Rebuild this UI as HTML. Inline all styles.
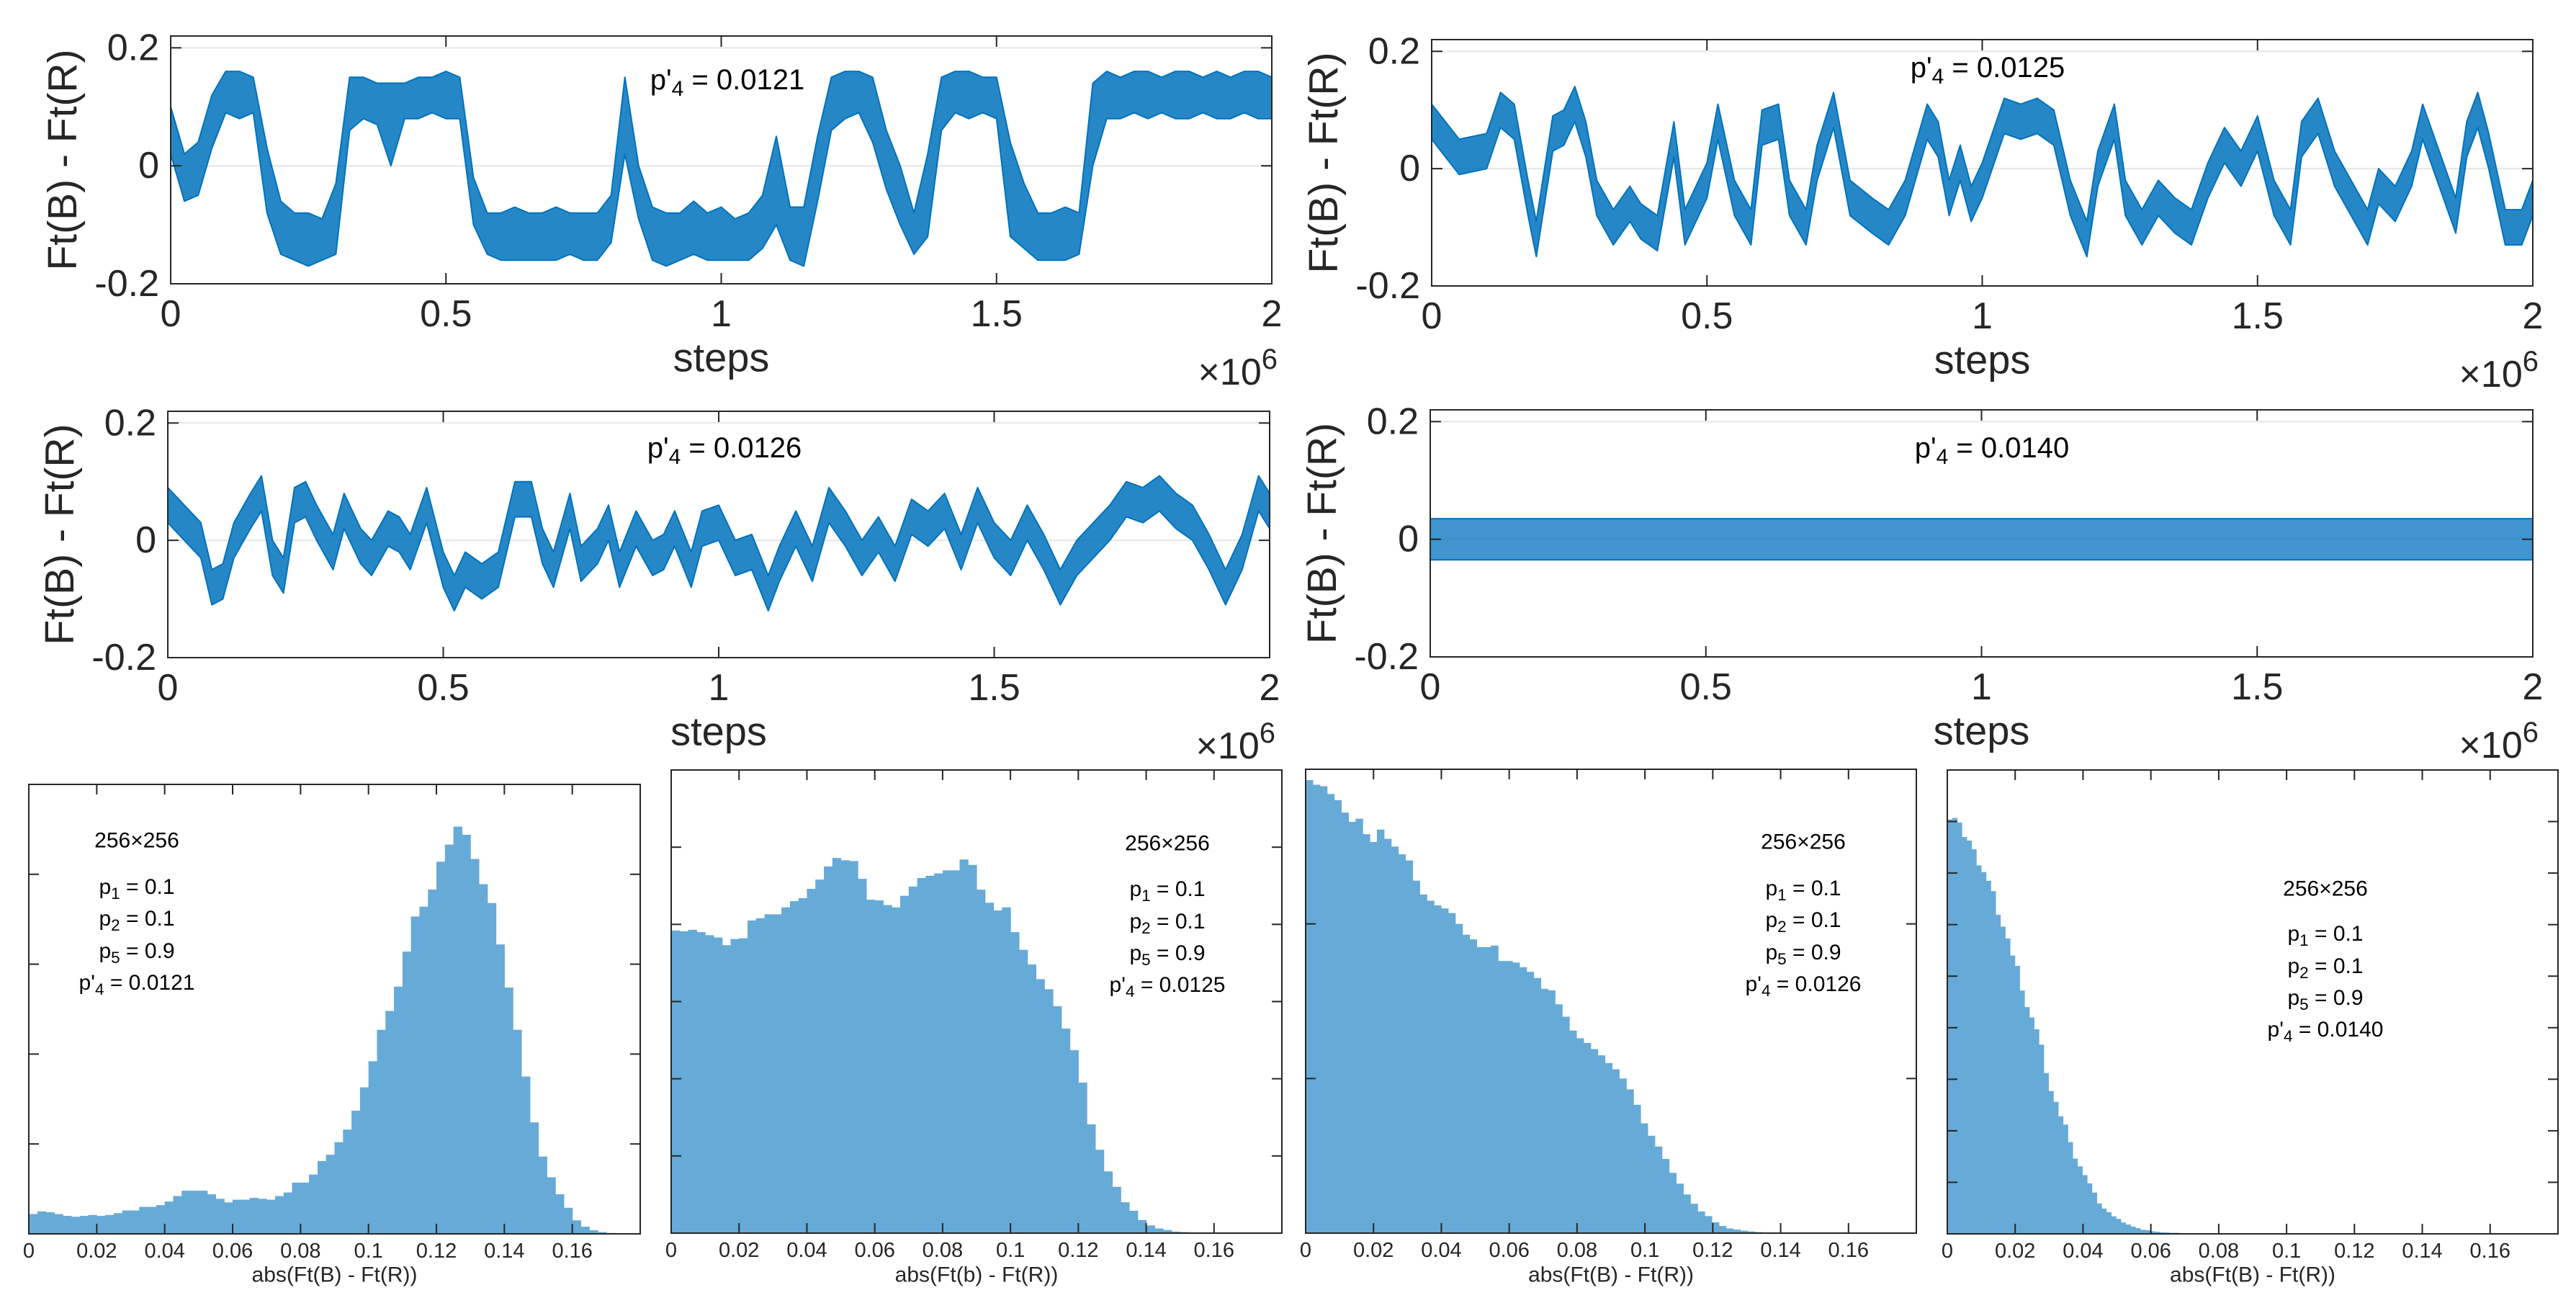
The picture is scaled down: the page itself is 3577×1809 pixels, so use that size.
<!DOCTYPE html>
<html><head><meta charset="utf-8"><style>
html,body{margin:0;padding:0;background:#fff;}
svg{display:block;font-family:"Liberation Sans",sans-serif;}
</style></head><body>
<svg id="fig" width="3577" height="1809" viewBox="0 0 3577 1809" xmlns="http://www.w3.org/2000/svg"></svg>
<script>
// ---------- data ----------
const stepTicks = [0, 0.5, 1, 1.5, 2];
const stepTickLabels = ["0", "0.5", "1", "1.5", "2"];
const valTicks = [-0.2, 0, 0.2];
const valTickLabels = ["-0.2", "0", "0.2"];
const lineYMin = -0.2, lineYMax = 0.22;

// series A (p'4 = 0.0121): envelope sampled every 0.025 (x10^6 steps)
const aStep = 0.025;
const aHi = [.1,.02,.04,.12,.16,.16,.15,.03,-.06,-.08,-.08,-.09,-.03,.15,.15,.14,.14,.14,.15,.15,.16,.15,-.02,-.08,-.08,-.07,-.08,-.08,-.07,-.08,-.08,-.08,-.05,.15,.0,-.07,-.08,-.08,-.06,-.08,-.07,-.09,-.08,-.05,.05,-.07,-.07,.05,.15,.16,.16,.15,.06,.0,-.08,.02,.15,.16,.16,.15,.15,.04,-.03,-.08,-.08,-.07,-.08,.14,.16,.15,.16,.16,.15,.16,.16,.15,.16,.15,.16,.16,.15];
const aLo = [.02,-.06,-.05,.03,.09,.08,.09,-.08,-.15,-.16,-.17,-.16,-.15,.06,.08,.07,.0,.08,.08,.09,.08,.08,-.1,-.15,-.16,-.16,-.16,-.16,-.16,-.15,-.16,-.16,-.13,.02,-.09,-.16,-.17,-.16,-.15,-.16,-.16,-.16,-.16,-.14,-.1,-.16,-.17,-.06,.06,.08,.09,.04,-.04,-.1,-.15,-.12,.06,.09,.08,.09,.08,-.12,-.14,-.16,-.16,-.16,-.15,.0,.08,.08,.09,.08,.09,.08,.08,.09,.08,.08,.09,.08,.08];

// series B (p'4 = 0.0125)
const bX = [0,.05,.1,.125,.15,.175,.19,.22,.24,.26,.28,.3,.33,.36,.38,.41,.44,.46,.5,.52,.55,.58,.6,.63,.65,.68,.7,.73,.76,.8,.83,.86,.9,.92,.94,.96,.98,1.0,1.04,1.07,1.1,1.13,1.16,1.19,1.21,1.24,1.26,1.29,1.32,1.35,1.38,1.41,1.44,1.47,1.5,1.53,1.56,1.58,1.61,1.64,1.67,1.7,1.72,1.75,1.78,1.8,1.83,1.86,1.88,1.9,1.92,1.95,1.98,2.0];
const bY = [.08,.02,.03,.1,.08,-.05,-.12,.06,.07,.11,.05,-.05,-.1,-.06,-.09,-.11,.05,-.1,-.02,.08,-.05,-.1,.07,.08,-.05,-.1,.01,.1,-.05,-.08,-.1,-.05,.08,.05,-.05,.01,-.06,-.02,.09,.08,.09,.07,-.05,-.12,0,.08,-.05,-.1,-.05,-.08,-.1,-.02,.04,0,.06,-.05,-.1,.05,.09,0,-.05,-.1,-.03,-.06,0,.08,0,-.08,.05,.1,.03,-.1,-.1,-.05];
const bSpread = 0.03;

// series C (p'4 = 0.0126)
const cX = [0,.03,.06,.08,.1,.12,.15,.17,.19,.21,.23,.25,.27,.3,.32,.35,.37,.4,.42,.44,.47,.5,.52,.54,.57,.6,.63,.66,.68,.7,.73,.75,.78,.8,.82,.85,.88,.9,.92,.95,.97,1.0,1.03,1.06,1.09,1.11,1.14,1.17,1.2,1.23,1.26,1.29,1.32,1.35,1.38,1.41,1.44,1.47,1.5,1.53,1.56,1.59,1.62,1.65,1.68,1.71,1.74,1.77,1.8,1.83,1.86,1.89,1.92,1.95,1.98,2.0];
const cY = [.06,.03,0,-.08,-.07,0,.05,.08,-.03,-.06,.06,.07,.03,-.02,.05,-.01,-.03,.02,.01,-.02,.06,-.05,-.09,-.05,-.07,-.05,.07,.07,-.01,-.05,.05,-.04,-.01,.03,-.05,.02,-.03,-.02,.02,-.05,.02,.03,-.03,-.02,-.09,-.04,.02,-.04,.06,.02,-.03,.01,-.04,.04,.02,.05,-.02,.06,0,-.03,.03,-.02,-.08,-.03,0,.03,.07,.06,.08,.05,.03,-.02,-.08,-.02,.08,.05];
const cSpread = 0.03;

// series D (p'4 = 0.0140)
const dX = [0,.25,.5,.75,1,1.25,1.5,1.75,2];
const dY = [0,0,0,0,0,0,0,0,0];
const dSpread = 0.035;

// histograms
const histTicks = [0,0.02,0.04,0.06,0.08,0.1,0.12,0.14,0.16];
const histTickLabels = ["0","0.02","0.04","0.06","0.08","0.1","0.12","0.14","0.16"];
const h1Width = 0.0025;
const h1Counts = [0.22,0.25,0.24,0.22,0.2,0.19,0.2,0.21,0.2,0.21,0.23,0.26,0.26,0.3,0.3,0.32,0.36,0.42,0.48,0.48,0.48,0.44,0.39,0.35,0.38,0.38,0.4,0.39,0.38,0.42,0.46,0.57,0.57,0.66,0.81,0.88,1.02,1.16,1.37,1.63,1.92,2.27,2.48,2.75,3.14,3.53,3.64,3.83,4.14,4.33,4.53,4.44,4.17,3.89,3.68,3.22,2.74,2.27,1.75,1.24,0.86,0.63,0.44,0.29,0.15,0.08,0.04,0.02,0.01,0.005,0.003,0];
const h2Width = 0.0025;
const h2Counts = [3.92,3.91,3.93,3.9,3.86,3.83,3.73,3.81,3.82,4.05,4.08,4.13,4.13,4.22,4.3,4.34,4.46,4.58,4.75,4.86,4.83,4.82,4.59,4.32,4.31,4.25,4.22,4.37,4.49,4.6,4.63,4.66,4.7,4.7,4.84,4.77,4.45,4.28,4.18,4.22,3.9,3.67,3.48,3.29,3.16,2.94,2.65,2.37,1.95,1.41,1.08,0.8,0.6,0.4,0.29,0.17,0.1,0.06,0.04,0.02,0.014,0.01,0.005,0,0,0,0,0,0,0,0,0];
const h3Width = 0.0021;
const h3Counts = [2.93,2.9,2.89,2.84,2.8,2.72,2.66,2.68,2.58,2.53,2.61,2.55,2.5,2.45,2.41,2.28,2.19,2.15,2.12,2.1,2.07,2.0,1.93,1.9,1.85,1.85,1.86,1.76,1.76,1.75,1.72,1.69,1.65,1.58,1.57,1.48,1.4,1.31,1.26,1.23,1.19,1.15,1.1,1.06,1.0,0.93,0.83,0.71,0.63,0.56,0.48,0.39,0.32,0.25,0.19,0.14,0.11,0.07,0.046,0.03,0.023,0.016,0.011,0.007,0.005,0.002,0.002];
const h4Width = 0.00142;
const h4Counts = [8.04,8.07,7.98,7.7,7.63,7.46,7.15,7.02,6.85,6.65,6.19,5.96,5.73,5.4,5.2,4.72,4.4,4.2,3.97,3.67,3.12,2.77,2.56,2.28,2.12,1.78,1.46,1.31,1.14,0.98,0.8,0.59,0.49,0.42,0.34,0.29,0.22,0.18,0.14,0.11,0.08,0.07,0.05,0.04,0.03,0.027,0.02,0.02,0.014,0.014,0.014,0.01,0.01,0.01,0.007,0.007,0.007];

// ---------- drawing ----------
const NS = "http://www.w3.org/2000/svg";
const svg = document.getElementById("fig");
function el(tag, attrs, parent) {
  const e = document.createElementNS(NS, tag);
  for (const k in attrs) e.setAttribute(k, attrs[k]);
  (parent || svg).appendChild(e);
  return e;
}
const AX = "#262626", LINEC = "#0072bd", BARC = "#66aad7";

function pText(g, cx, cy, size, main, sub, rest) {
  const t = el("text", {x: cx, y: cy, "font-size": size, "text-anchor": "middle", "dominant-baseline": "central", fill: "#000"}, g);
  
  
  const s1 = el("tspan", {}, t); s1.textContent = main;
  if (sub !== null) {
    const s2 = el("tspan", {dy: size * 0.3, "font-size": size * 0.75}, t); s2.textContent = sub;
    const s3 = el("tspan", {dy: -size * 0.3}, t); s3.textContent = rest;
  }
  return t;
}

function linePlot(name, box, band, label, opacity) {
  const g = el("g", {});
  
  
  const [x0, y0, x1, y1] = box;
  const sx = v => x0 + (v - 0) / 2 * (x1 - x0);
  const sy = v => y1 - (v - lineYMin) / (lineYMax - lineYMin) * (y1 - y0);
  valTicks.forEach(v => {
    const gl = el("line", {x1: x0, x2: x1, y1: sy(v), y2: sy(v), stroke: "#e6e6e6", "stroke-width": 2}, g);
    
    
  });
  let d = "";
  band.x.forEach((v, i) => { d += (i ? "L" : "M") + sx(v).toFixed(1) + " " + sy(band.hi[i]).toFixed(1); });
  for (let i = band.x.length - 1; i >= 0; i--) d += "L" + sx(band.x[i]).toFixed(1) + " " + sy(band.lo[i]).toFixed(1);
  d += "Z";
  const p = el("path", {d: d, fill: LINEC, "fill-opacity": opacity, stroke: LINEC, "stroke-width": 2, "stroke-linejoin": "round"}, g);
  
  
  const r = el("rect", {x: x0, y: y0, width: x1 - x0, height: y1 - y0, fill: "none", stroke: AX, "stroke-width": 2}, g);
  
  
  const tl = 15;
  stepTicks.forEach((v, i) => {
    el("line", {x1: sx(v), x2: sx(v), y1: y1, y2: y1 - tl, stroke: AX, "stroke-width": 2}, g);
    el("line", {x1: sx(v), x2: sx(v), y1: y0, y2: y0 + tl, stroke: AX, "stroke-width": 2}, g);
    const t = el("text", {x: sx(v), y: y1 + 42, "font-size": 52, "text-anchor": "middle", "dominant-baseline": "central", fill: AX}, g);
    
    
    t.textContent = stepTickLabels[i];
  });
  valTicks.forEach((v, i) => {
    el("line", {x1: x0, x2: x0 + tl, y1: sy(v), y2: sy(v), stroke: AX, "stroke-width": 2}, g);
    el("line", {x1: x1, x2: x1 - tl, y1: sy(v), y2: sy(v), stroke: AX, "stroke-width": 2}, g);
    const t = el("text", {x: x0 - 16, y: sy(v), "font-size": 52, "text-anchor": "end", "dominant-baseline": "central", fill: AX}, g);
    
    
    t.textContent = valTickLabels[i];
  });
  const xl = el("text", {x: (x0 + x1) / 2, y: y1 + 102, "font-size": 56, "text-anchor": "middle", "dominant-baseline": "central", fill: AX}, g);
  
  
  xl.textContent = "steps";
  const ex = el("text", {x: x1 + 8, y: y1 + 140, "font-size": 52, "text-anchor": "end", fill: AX}, g);
  
  
  const e1 = el("tspan", {}, ex); e1.textContent = "×10";
  const e2 = el("tspan", {dy: -22, "font-size": 40}, ex); e2.textContent = "6";
  const yl = el("text", {x: 0, y: 0, "font-size": 57, "text-anchor": "middle", "dominant-baseline": "central", fill: AX,
    transform: "translate(" + (x0 - 150) + "," + ((y0 + y1) / 2) + ") rotate(-90)"}, g);
  
  
  yl.textContent = "Ft(B) - Ft(R)";
  pText(g, label.cx, label.cy, 40, "p'", "4", " = " + label.v);
}

function bandFromCenter(xs, ys, s) {
  return {x: xs, hi: ys.map(v => v + s), lo: ys.map(v => v - s)};
}

linePlot("plot-p4-0121", [237, 50, 1766, 394], {x: aHi.map((_, i) => i * aStep), hi: aHi, lo: aLo}, {cx: 1010, cy: 111, v: "0.0121"}, 0.85);
linePlot("plot-p4-0125", [1988, 55, 3517, 397], bandFromCenter(bX, bY, bSpread), {cx: 2760, cy: 94, v: "0.0125"}, 0.85);
linePlot("plot-p4-0126", [233, 571, 1763, 913], bandFromCenter(cX, cY, cSpread), {cx: 1006, cy: 622, v: "0.0126"}, 0.85);
linePlot("plot-p4-0140", [1986, 569, 3517, 912], bandFromCenter(dX, dY, dSpread), {cx: 2766, cy: 622, v: "0.0140"}, 0.75);

function histPlot(name, box, width, counts, ymax, xlabel, txt) {
  const g = el("g", {});
  
  
  const [x0, y0, x1, y1] = box;
  const sx = v => x0 + v / 0.18 * (x1 - x0);
  const sy = v => y1 - v / ymax * (y1 - y0);
  counts.forEach((c, i) => {
    if (c <= 0) return;
    const r = el("rect", {x: sx(i * width), y: sy(c), width: sx((i + 1) * width) - sx(i * width) + 0.6, height: y1 - sy(c), fill: BARC}, g);
    
    
  });
  const b = el("rect", {x: x0, y: y0, width: x1 - x0, height: y1 - y0, fill: "none", stroke: AX, "stroke-width": 2}, g);
  
  
  const tl = 14;
  histTicks.forEach((v, i) => {
    el("line", {x1: sx(v), x2: sx(v), y1: y0, y2: y0 + tl, stroke: AX, "stroke-width": 2}, g);
    el("line", {x1: sx(v), x2: sx(v), y1: y1, y2: y1 - tl, stroke: AX, "stroke-width": 2}, g);
    const t = el("text", {x: sx(v), y: y1 + 24, "font-size": 29, "text-anchor": "middle", "dominant-baseline": "central", fill: AX}, g);
    
    
    t.textContent = histTickLabels[i];
  });
  for (let k = 1; k < ymax; k++) {
    el("line", {x1: x0, x2: x0 + tl, y1: sy(k), y2: sy(k), stroke: AX, "stroke-width": 2}, g);
    el("line", {x1: x1, x2: x1 - tl, y1: sy(k), y2: sy(k), stroke: AX, "stroke-width": 2}, g);
  }
  const xl = el("text", {x: (x0 + x1) / 2, y: 1770, "font-size": 30, "text-anchor": "middle", "dominant-baseline": "central", fill: AX}, g);
  
  
  xl.textContent = xlabel;
  const f = 30;
  const t0 = el("text", {x: txt.cx, y: txt.ys[0], "font-size": f, "text-anchor": "middle", "dominant-baseline": "central", fill: "#000"}, g);
  
  
  t0.textContent = "256×256";
  pText(g, txt.cx, txt.ys[1], f, "p", "1", " = 0.1");
  pText(g, txt.cx, txt.ys[2], f, "p", "2", " = 0.1");
  pText(g, txt.cx, txt.ys[3], f, "p", "5", " = 0.9");
  pText(g, txt.cx, txt.ys[4], f, "p'", "4", " = " + txt.v);
}
histPlot("hist-p4-0121", [40, 1089, 889, 1713], h1Width, h1Counts, 5, "abs(Ft(B) - Ft(R))", {cx: 190, ys: [1167, 1231, 1275, 1320, 1364], v: "0.0121"});
histPlot("hist-p4-0125", [932, 1069, 1780, 1712], h2Width, h2Counts, 6, "abs(Ft(b) - Ft(R))", {cx: 1621, ys: [1171, 1234, 1279, 1323, 1367], v: "0.0125"});
histPlot("hist-p4-0126", [1813, 1068, 2661, 1712], h3Width, h3Counts, 3, "abs(Ft(B) - Ft(R))", {cx: 2504, ys: [1169, 1233, 1277, 1322, 1366], v: "0.0126"});
histPlot("hist-p4-0140", [2704, 1069, 3552, 1713], h4Width, h4Counts, 9, "abs(Ft(B) - Ft(R))", {cx: 3229, ys: [1234, 1296, 1341, 1385, 1429], v: "0.0140"});
</script>
</body></html>
